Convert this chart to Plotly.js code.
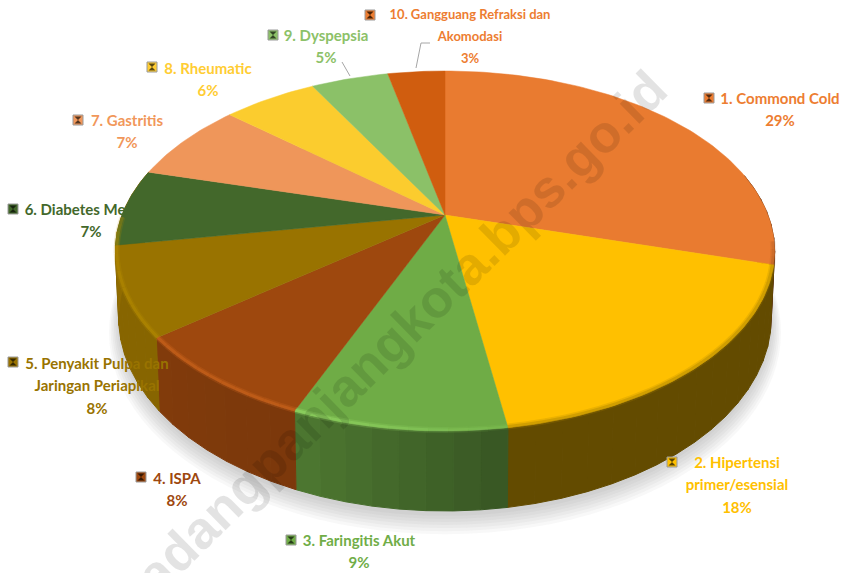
<!DOCTYPE html>
<html><head><meta charset="utf-8">
<script src="https://cdn.plot.ly/plotly-3.0.1.min.js"></script>
<style>html,body{margin:0;padding:0;background:#fff}#c{width:844px;height:573px}</style></head>
<body><div id="c"></div>
<script>
// ---- data ----
const categories = ["1. Commond Cold","2. Hipertensi primer/esensial","3. Faringitis Akut","4. ISPA","5. Penyakit Pulpa dan Jaringan Periapikal","6. Diabetes Mellitus","7. Gastritis","8. Rheumatic","9. Dyspepsia","10. Gangguang Refraksi dan Akomodasi"];
const percentLabels = [29,18,9,8,8,7,7,6,5,3];
const shares = [29.4,18.1,8.7,8.1,8.0,6.9,7.2,5.6,4.6,3.4];
const labelLines = [["1. Commond Cold"],["2. Hipertensi","primer/esensial"],["3. Faringitis Akut"],["4. ISPA"],["5. Penyakit Pulpa dan","Jaringan Periapikal"],["6. Diabetes Mellitus"],["7. Gastritis"],["8. Rheumatic"],["9. Dyspepsia"],["10. Gangguang Refraksi dan","Akomodasi"]];
// ---- style ----
const topColors = ["#E97B30","#FFC000","#6FAC46","#9E480E","#997300","#43682B","#EF965A","#FBCC2E","#8BC168","#D05D0F"];
const labelColors = ["#ED7D31","#FFC000","#70AD47","#9E480E","#997300","#43682B","#F1975A","#FFCD33","#8CC168","#ED7D31"];
const labelSizes = [15,15,15,15,15,15,15,15,15,13];
const sideColors = ["#E97B30","#FFC000","#6FAC46","#9E480E","#997300","#997300","#997300","#997300","#997300","#997300"];
const sideShadeStart = [.55,.39,.50,.78,.88,.95,.7,.7,.7,.7];
const sideShadeEnd   = [.39,.39,.70,.82,.88,.95,.7,.7,.7,.7];
const rimGlow = ["#8a4a1c","#a98200","#9ae06a","#d2681f","#b58c00","#b58c00","#EF965A","#FBCC2E","#8BC168","#D05D0F"];
const rimStart = [.3,.8,.25,.9,.9,.9,0,0,0,0];
const rimEnd   = [.5,.8,1.0,.9,.9,.5,0,0,0,0];
// ---- label placement (page pixels) ----
const labelX = [780,737,359,177,97,91,127,208,326,470];
const labelY = [100,464,542,480,365,211,122,70,37,16];
const lineGap = 22.5;
const keyX = [709,672,291,141,13,13,78,152,273,370];
const keyY = [98,462,540,477,362,209,120,67,35,15];
const leaderX = [[342,350],[416,421,430]];
const leaderY = [[62,76],[68,43,43]];
// ---- projection of the tilted disc ----
const CX=445, CY=215, A=323, B=172.8, K=0.2, DEPTH=64, SHRINK=0.99;
function proj(theta,r,z){ // theta clockwise from top, r radius 0..1, z depth 0..1
  const u=r*Math.sin(theta), v=r*Math.cos(theta), w=1+K*v, s=1-(1-SHRINK)*z;
  return [CX+s*A*u/w, CY+(-B*v+DEPTH*z)/w];
}
function shade(hex,f){
  const n=parseInt(hex.slice(1),16);
  return `rgb(${Math.round((n>>16&255)*f)},${Math.round((n>>8&255)*f)},${Math.round((n&255)*f)})`;
}
const total=shares.reduce((a,b)=>a+b,0);
const traces=[];
function poly(pts,color,lineColor,lw){
  traces.push({type:'scatter',mode:'lines',x:pts.map(p=>p[0]),y:pts.map(p=>p[1]),fill:'toself',fillcolor:color,
    line:{color:lineColor||color,width:lw===undefined?1:lw},hoverinfo:'skip',showlegend:false});
}
function arc(t0,t1,r,z,n){const o=[];for(let i=0;i<=n;i++){o.push(proj(t0+(t1-t0)*i/n,r,z));}return o;}
// soft shadow beneath the disc
for(let j=6;j>=0;j--){
  const pts=arc(0,2*Math.PI,1+j*0.005,1.06+j*0.02,120);
  poly(pts,'rgba(90,90,90,0.045)','rgba(0,0,0,0)',0);
}
// side wall
let cum=0; const starts=shares.map(s=>{const a=cum;cum+=s;return a/total*2*Math.PI;});
shares.forEach((s,i)=>{
  const t0=starts[i], t1=t0+s/total*2*Math.PI, n=Math.max(2,Math.ceil(s/1.2));
  for(let k=0;k<n;k++){
    const a=t0+(t1-t0)*k/n,b=t0+(t1-t0)*(k+1)/n;
    if(Math.cos((a+b)/2)>0.25) continue;
    const f=sideShadeStart[i]+(sideShadeEnd[i]-sideShadeStart[i])*(k+.5)/n;
    const pts=arc(a,b,1,0,3).concat(arc(b,a,1,1,3));
    pts.push(pts[0]);
    poly(pts,shade(sideColors[i],f));
  }
});
// top face
shares.forEach((s,i)=>{
  const t0=starts[i], t1=t0+s/total*2*Math.PI;
  const pts=[proj(0,0,0)].concat(arc(t0,t1,1,0,Math.ceil(s*3)));
  pts.push(pts[0]);
  poly(pts,topColors[i],topColors[i],0.5);
});
// rim bevel on the front part, fading along each slice
shares.forEach((s,i)=>{
  const t0=Math.max(starts[i],1.72), t1=Math.min(starts[i]+s/total*2*Math.PI,4.7);
  if(t1<=t0) return;
  const n=Math.ceil((t1-t0)/0.05);
  for(let k=0;k<n;k++){
    const a=t0+(t1-t0)*k/n,b=t0+(t1-t0)*(k+1)/n;
    const g=rimStart[i]+(rimEnd[i]-rimStart[i])*(k+.5)/n;
    [[6,.28],[3,.5]].forEach(w=>{
      const pts=arc(a,b,.996,0,2);
      traces.push({type:'scatter',mode:'lines',x:pts.map(p=>p[0]),y:pts.map(p=>p[1]),opacity:w[1]*g,line:{color:rimGlow[i],width:w[0]},hoverinfo:'skip',showlegend:false});
    });
  }
});
// labels lie over the pie; each is the colour of its own slice
percentLabels.forEach((s,i)=>{
  const xs=[],ys=[],tx=[];
  labelLines[i].concat([s+"%"]).forEach((t,j)=>{xs.push(labelX[i]);ys.push(labelY[i]+j*(i===9?22:lineGap));tx.push(t);});
  traces.push({type:'scatter',mode:'text',x:xs,y:ys,text:tx,textposition:'middle center',
    textfont:{family:'Lato, Carlito, sans-serif',size:labelSizes[i],color:labelColors[i],weight:700},hoverinfo:'skip',showlegend:false});
  traces.push({type:'scatter',mode:'markers',x:[keyX[i]],y:[keyY[i]],marker:{symbol:'square',size:10,color:labelColors[i],line:{color:'#9a9a9a',width:1}},hoverinfo:'skip',showlegend:false});
  traces.push({type:'scatter',mode:'markers',x:[keyX[i]],y:[keyY[i]],marker:{symbol:'hourglass',size:7,color:shade(topColors[i],.35),line:{width:0}},hoverinfo:'skip',showlegend:false});
});
leaderX.forEach((lx,i)=>traces.push({type:'scatter',mode:'lines',x:lx,y:leaderY[i],line:{color:'#a6a6a6',width:1},hoverinfo:'skip',showlegend:false}));
const layout={width:844,height:573,margin:{l:0,r:0,t:0,b:0},paper_bgcolor:'#fff',plot_bgcolor:'#fff',showlegend:false,hovermode:false,
  xaxis:{range:[0,844],visible:false,fixedrange:true},yaxis:{range:[573,0],visible:false,fixedrange:true},
  annotations:[{xref:'x',yref:'y',x:389,y:343,text:'padangpanjangkota.bps.go.id',showarrow:false,textangle:-44.5,xanchor:'center',yanchor:'middle',
    font:{family:'Liberation Sans, Arial, sans-serif',size:53,color:'rgba(0,0,0,0.11)',weight:700}}]};
Plotly.newPlot('c',traces,layout,{displayModeBar:false,staticPlot:true});
</script></body></html>
